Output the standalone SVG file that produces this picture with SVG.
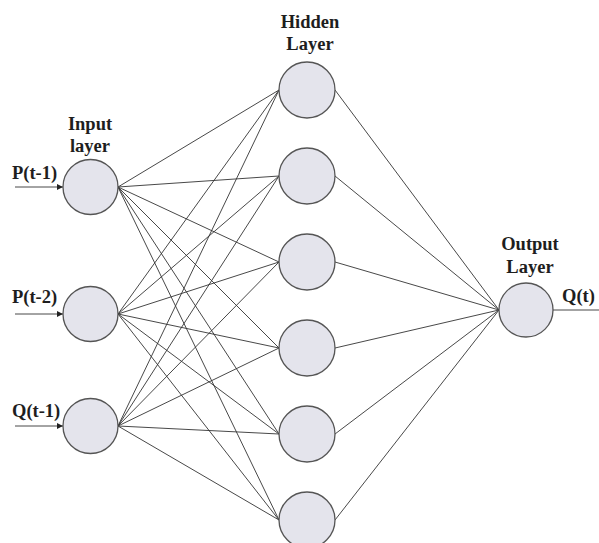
<svg xmlns="http://www.w3.org/2000/svg" width="599" height="543" viewBox="0 0 599 543">
<defs>
<style>
.node{fill:#e4e4ec;stroke:#555;stroke-width:1.3}
.edge{stroke:#333;stroke-width:0.9;fill:none}
.lbl{font-family:"Liberation Serif","Times New Roman",serif;font-weight:bold;font-size:18.5px;fill:#1e1e1e}
</style>
<marker id="arr" viewBox="0 0 10 10" refX="10" refY="5" markerWidth="8" markerHeight="6" markerUnits="userSpaceOnUse" orient="auto">
<path d="M0,0 L10,5 L0,10 z" fill="#222"/>
</marker>
</defs>
<rect width="599" height="543" fill="#fff"/>
<g id="connectors">
<line class="edge" x1="15" y1="187" x2="63" y2="187" marker-end="url(#arr)"/>
<line class="edge" x1="15" y1="314" x2="63" y2="314" marker-end="url(#arr)"/>
<line class="edge" x1="15" y1="426" x2="63" y2="426" marker-end="url(#arr)"/>
<line class="edge" x1="118" y1="187" x2="279" y2="90"/>
<line class="edge" x1="118" y1="187" x2="279" y2="176"/>
<line class="edge" x1="118" y1="187" x2="279" y2="262"/>
<line class="edge" x1="118" y1="187" x2="279" y2="348"/>
<line class="edge" x1="118" y1="187" x2="279" y2="434"/>
<line class="edge" x1="118" y1="187" x2="279" y2="520"/>
<line class="edge" x1="118" y1="314" x2="279" y2="90"/>
<line class="edge" x1="118" y1="314" x2="279" y2="176"/>
<line class="edge" x1="118" y1="314" x2="279" y2="262"/>
<line class="edge" x1="118" y1="314" x2="279" y2="348"/>
<line class="edge" x1="118" y1="314" x2="279" y2="434"/>
<line class="edge" x1="118" y1="314" x2="279" y2="520"/>
<line class="edge" x1="118" y1="426" x2="279" y2="90"/>
<line class="edge" x1="118" y1="426" x2="279" y2="176"/>
<line class="edge" x1="118" y1="426" x2="279" y2="262"/>
<line class="edge" x1="118" y1="426" x2="279" y2="348"/>
<line class="edge" x1="118" y1="426" x2="279" y2="434"/>
<line class="edge" x1="118" y1="426" x2="279" y2="520"/>
<line class="edge" x1="335" y1="90" x2="499" y2="310"/>
<line class="edge" x1="335" y1="176" x2="499" y2="310"/>
<line class="edge" x1="335" y1="262" x2="499" y2="310"/>
<line class="edge" x1="335" y1="348" x2="499" y2="310"/>
<line class="edge" x1="335" y1="434" x2="499" y2="310"/>
<line class="edge" x1="335" y1="520" x2="499" y2="310"/>
<line class="edge" x1="553" y1="310" x2="599" y2="310"/>
</g>
<g id="input-layer">
<text class="lbl" x="90" y="130" text-anchor="middle">Input</text>
<text class="lbl" x="90" y="152" text-anchor="middle">layer</text>
</g>
<g id="in1"><circle class="node" cx="90.5" cy="187" r="27.5"/><text class="lbl" x="12" y="179">P(t-1)</text></g>
<g id="in2"><circle class="node" cx="90.5" cy="314" r="27.5"/><text class="lbl" x="12" y="303">P(t-2)</text></g>
<g id="in3"><circle class="node" cx="90.5" cy="426" r="27.5"/><text class="lbl" x="12" y="417">Q(t-1)</text></g>
<g id="hidden-layer">
<text class="lbl" x="310" y="28" text-anchor="middle">Hidden</text>
<text class="lbl" x="310" y="50" text-anchor="middle">Layer</text>
</g>
<g id="h1"><circle class="node" cx="307" cy="90" r="28"/></g>
<g id="h2"><circle class="node" cx="307" cy="176" r="28"/></g>
<g id="h3"><circle class="node" cx="307" cy="262" r="28"/></g>
<g id="h4"><circle class="node" cx="307" cy="348" r="28"/></g>
<g id="h5"><circle class="node" cx="307" cy="434" r="28"/></g>
<g id="h6"><circle class="node" cx="307" cy="520" r="28"/></g>
<g id="output-layer">
<text class="lbl" x="530" y="250" text-anchor="middle">Output</text>
<text class="lbl" x="530" y="273" text-anchor="middle">Layer</text>
</g>
<g id="out"><circle class="node" cx="526" cy="310" r="27"/><text class="lbl" x="562" y="302">Q(t)</text></g>
</svg>
